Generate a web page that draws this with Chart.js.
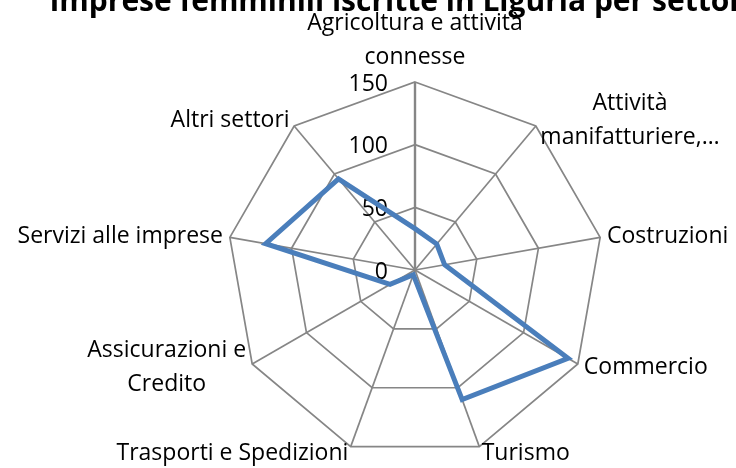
<!DOCTYPE html>
<html>
<head>
<meta charset="utf-8">
<script src="https://cdn.jsdelivr.net/npm/chart.js@4.4.0/dist/chart.umd.min.js"></script>
<style>
  html, body { margin: 0; padding: 0; background: #fff; overflow: hidden; }
</style>
</head>
<body>
<canvas id="chart" width="736" height="468"></canvas>
<script>
const chartTitle = "Imprese femminili iscritte in Liguria per settore";
const categories = [
  ["Agricoltura e attività", "connesse"],
  ["Attività", "manifatturiere,…"],
  "Costruzioni",
  "Commercio",
  "Turismo",
  "Trasporti e Spedizioni",
  ["Assicurazioni e", "Credito"],
  "Servizi alle imprese",
  "Altri settori"
];
const values = [33, 27, 24, 141, 110, 4, 23, 121, 95];
const tickValues = [0, 50, 100, 150];

const FONT = '"Open Sans", "Noto Sans", sans-serif';
const lineH = 34;

// draws title, tick labels and category labels (positions come from the radial scale)
const labelPlugin = {
  id: "labels",
  beforeDatasetsDraw(chart) {
    const ctx = chart.ctx;
    const r = chart.scales.r;
    ctx.save();
    ctx.fillStyle = "#000";
    ctx.font = "23px " + FONT;
    ctx.textAlign = "right";
    ctx.textBaseline = "middle";
    tickValues.forEach(v => {
      ctx.fillText(String(v), r.xCenter - 27, r.yCenter - r.getDistanceFromCenterForValue(v) + 2);
    });
    ctx.restore();
  },
  afterDraw(chart) {
    const ctx = chart.ctx;
    const r = chart.scales.r;
    ctx.save();
    ctx.fillStyle = "#000";
    ctx.font = "bold 30px " + FONT;
    ctx.textAlign = "center";
    ctx.textBaseline = "alphabetic";
    ctx.fillText(chartTitle, r.xCenter - 10, 11);

    ctx.font = "23px " + FONT;
    ctx.textBaseline = "middle";
    ctx.textAlign = "center";
    categories.forEach((lab, i) => {
      const lines = Array.isArray(lab) ? lab : [lab];
      const ang = i * 360 / categories.length;
      const p = r.getPointPosition(i, r.drawingArea + 7);
      const w = Math.max(...lines.map(l => ctx.measureText(l).width));
      let cx = p.x;
      if (ang > 0 && ang < 180) cx = p.x + w / 2;
      else if (ang > 180) cx = p.x - w / 2;
      let y0;
      if (ang === 0) y0 = p.y - 18 - (lines.length - 1) * lineH;
      else y0 = p.y - (lines.length - 1) * lineH / 2;
      lines.forEach((l, k) => ctx.fillText(l, cx, y0 + k * lineH));
    });
    ctx.restore();
  }
};

new Chart(document.getElementById("chart"), {
  type: "radar",
  data: {
    labels: categories,
    datasets: [{
      label: "Imprese",
      data: values,
      borderColor: "#4A7EBB",
      backgroundColor: "rgba(0,0,0,0)",
      borderWidth: 5,
      borderJoinStyle: "miter",
      pointRadius: 0,
      pointHoverRadius: 0,
      fill: false
    }]
  },
  options: {
    responsive: false,
    devicePixelRatio: 1,
    animation: false,
    layout: { padding: { top: 82, bottom: 10, left: 227, right: 133 } },
    plugins: {
      legend: { display: false },
      title: { display: false },
      tooltip: { enabled: false }
    },
    scales: {
      r: {
        min: 0,
        max: 150,
        ticks: { display: false, stepSize: 50 },
        pointLabels: { display: false },
        grid: { color: "#868686", lineWidth: 1.7 },
        angleLines: {
          color: "#868686",
          lineWidth: ctx => (ctx.index === 0 ? 2.4 : 1.7)
        }
      }
    }
  },
  plugins: [labelPlugin]
});
</script>
</body>
</html>
